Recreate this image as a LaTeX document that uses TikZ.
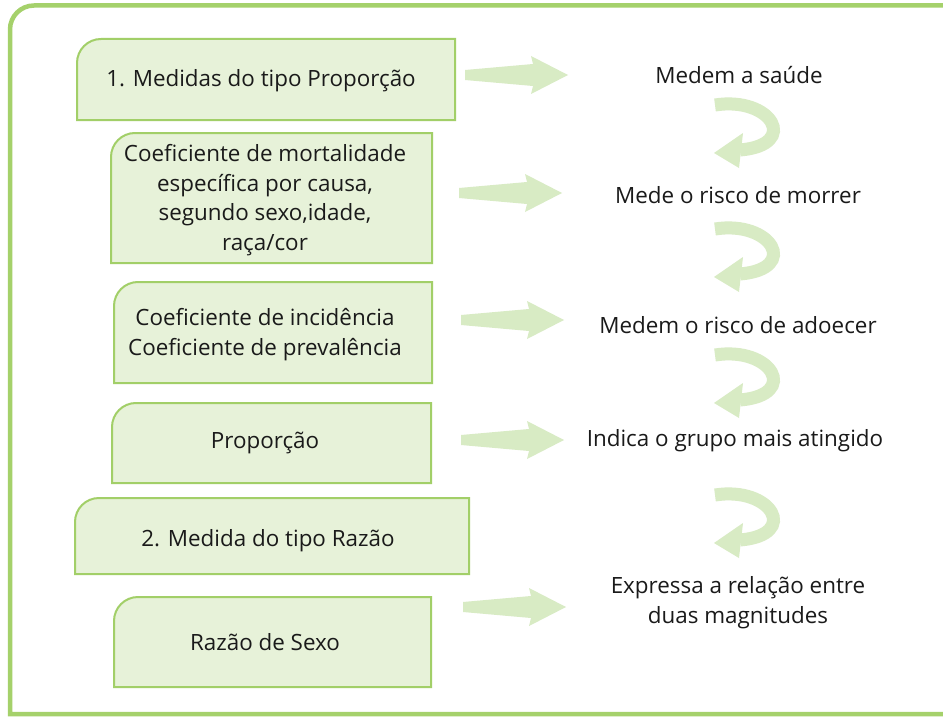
\documentclass[tikz,border=0pt]{standalone}
\usepackage{fontspec}
\setmainfont{Open Sans}
\definecolor{framegreen}{HTML}{A5D16B}
\definecolor{boxline}{HTML}{A2CF68}
\definecolor{boxfill}{HTML}{E7F2D9}
\definecolor{arrowfill}{HTML}{D8EBC4}
\definecolor{txtcol}{HTML}{1A1A1A}
\tikzset{
  boxst/.style={draw=boxline,fill=boxfill,line width=2pt},
  txt/.style={font=\fontsize{22.4}{29.5}\selectfont,align=center,text=txtcol,inner sep=0pt,anchor=base},
  straightarrow/.pic={\fill[arrowfill] (0,-5) -- (68,-11) -- (66,-19) -- (103,0) -- (66,19) -- (68,11) -- (0,5) -- cycle;},
  curvearrow/.pic={
    \draw[arrowfill,line width=13pt] (13,15) .. controls (70,6) and (98,55) .. (38,60);
    \fill[arrowfill] (41,43) -- (12,63) -- (37,78) -- cycle;}
}
\newcommand{\greenbox}[4]{\draw[boxst] (#1,#4) -- (#1,#2+24) arc[start angle=180,end angle=270,radius=24] -- (#3,#2) -- (#3,#4) -- cycle;}
\begin{document}
\begin{tikzpicture}[x=1pt,y=-1pt]
\useasboundingbox (0,0) rectangle (943,717);
\fill[white] (0,0) rectangle (943,717);
% frame
\draw[framegreen,line width=4.5pt] (943,5.5) -- (34,5.5) arc[start angle=270,end angle=180,radius=24] -- (10,714) -- (943,714);
% boxes
\greenbox{77}{39}{455}{120}
\greenbox{111}{133}{432}{263}
\greenbox{114}{282}{432}{383}
\greenbox{112}{403}{431}{483}
\greenbox{75}{498}{469}{574}
\greenbox{114}{597}{431}{687}
% box texts (multi-line: base = last line)
\node[txt] (t1) at (261,87) {1. Medidas do tipo Proporção};
\node[txt] (t2) at (265,250) {Coeficiente de mortalidade\\específica por causa,\\segundo sexo,idade,\\raça/cor};
\node[txt] (t3) at (265,355) {Coeficiente de incidência\\Coeficiente de prevalência};
\node[txt] (t4) at (265,448) {Proporção};
\node[txt] (t5) at (268,546) {2. Medida do tipo Razão};
\node[txt] (t6) at (265,650) {Razão de Sexo};
% right texts
\node[txt] (r1) at (739,84) {Medem a saúde};
\node[txt] (r2) at (738,203) {Mede o risco de morrer};
\node[txt] (r3) at (738,333) {Medem o risco de adoecer};
\node[txt] (r4) at (735,446) {Indica o grupo mais atingido};
\node[txt] (r5) at (738,623) {Expressa a relação entre\\duas magnitudes};
% straight arrows
\pic at (465,75) {straightarrow};
\pic at (459,193) {straightarrow};
\pic at (461,320) {straightarrow};
\pic at (461,440) {straightarrow};
\pic at (463,607) {straightarrow};
% curved arrows
\pic at (702,90) {curvearrow};
\pic at (702,214) {curvearrow};
\pic at (702,340) {curvearrow};
\pic at (702,480) {curvearrow};
\end{tikzpicture}
\end{document}
